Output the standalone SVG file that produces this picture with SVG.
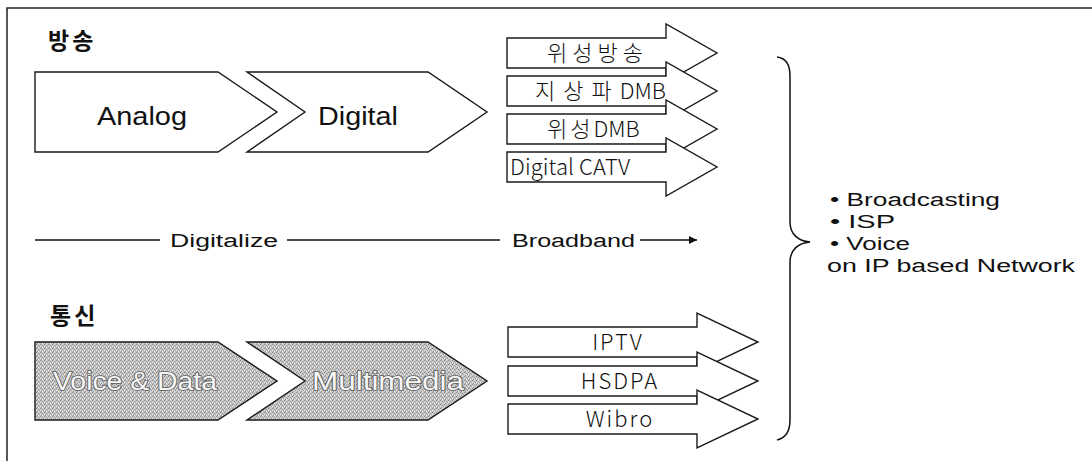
<svg xmlns="http://www.w3.org/2000/svg" width="1092" height="461" viewBox="0 0 1092 461">
  <style>
    .frame { stroke: #222; stroke-width: 1.5; fill: none; }
    .chev { fill: #ffffff; stroke: #1a1a1a; stroke-width: 1.4; stroke-linejoin: miter; }
    .chev-g { fill: url(#dither); stroke: #1a1a1a; stroke-width: 1.4; }
    .arr { fill: #ffffff; stroke: #1a1a1a; stroke-width: 1.4; stroke-linejoin: miter; }
    .head { font-family: "Noto Sans CJK KR", sans-serif; font-weight: 700; font-size: 23px; fill: #111; letter-spacing: 3px; }
    .big { font-family: "Liberation Sans", Arial, sans-serif; font-size: 25px; fill: #111; }
    .big-g { font-family: "Liberation Sans", Arial, sans-serif; font-size: 25px; fill: #f6f6f6; stroke: #5a5a5a; stroke-width: 1.6; paint-order: stroke; }
    .mid { font-family: "Liberation Sans", Arial, sans-serif; font-size: 18px; fill: #111; }
    .thin { font-family: "Noto Sans CJK KR", sans-serif; font-weight: 300; font-size: 22px; fill: #111; }
    .line { stroke: #111; stroke-width: 1.5; fill: none; }
  </style>
  <defs>
    <pattern id="dither" width="4" height="4" patternUnits="userSpaceOnUse">
      <rect width="4" height="4" fill="#c6c6c6"/>
      <rect x="0" y="0" width="1" height="1" fill="#8c8c8c"/>
      <rect x="2" y="1" width="1" height="1" fill="#999"/>
      <rect x="1" y="3" width="1" height="1" fill="#8c8c8c"/>
      <rect x="3" y="2" width="1" height="1" fill="#a0a0a0"/>
      <rect x="2" y="3" width="1" height="1" fill="#eeeeee"/>
      <rect x="0" y="2" width="1" height="1" fill="#e6e6e6"/>
    </pattern>
    <marker id="tip" viewBox="0 0 10 10" refX="10" refY="5" markerWidth="11" markerHeight="8" markerUnits="userSpaceOnUse" orient="auto">
      <path d="M0,0 L10,5 L0,10 Z" fill="#111"/>
    </marker>
  </defs>

  <rect width="1092" height="461" fill="#ffffff"/>
  <!-- outer frame: top and left edges -->
  <path class="frame" d="M7,461 V8 H1092"/>

  <!-- broadcasting section -->
  <text class="head" x="48" y="49">방송</text>

  <g id="analog">
    <path class="chev" d="M35,72 H218 L277,112 L218,152 H35 Z"/>
    <text class="big" x="97" y="125" textLength="90" lengthAdjust="spacingAndGlyphs">Analog</text>
  </g>
  <g id="digital">
    <path class="chev" d="M247,72 H428 L487,112 L428,152 H247 L305,112 Z"/>
    <text class="big" x="318" y="125" textLength="80" lengthAdjust="spacingAndGlyphs">Digital</text>
  </g>

  <g id="sat-broadcast">
    <path class="arr" d="M507,38 H666 V24 L717,53 L666,82 V68 H507 Z"/>
    <text class="thin" x="547" y="61" letter-spacing="5">위성방송</text>
  </g>
  <g id="terrestrial-dmb">
    <path class="arr" d="M507,76 H666 V62 L717,91 L666,120 V106 H507 Z"/>
    <text class="thin" x="535" y="99"><tspan letter-spacing="8">지상파</tspan>DMB</text>
  </g>
  <g id="sat-dmb">
    <path class="arr" d="M507,114 H666 V100 L717,129 L666,158 V144 H507 Z"/>
    <text class="thin" x="547" y="137"><tspan letter-spacing="3">위성</tspan>DMB</text>
  </g>
  <g id="digital-catv">
    <path class="arr" d="M507,152 H666 V138 L717,167 L666,196 V182 H507 Z"/>
    <text class="thin" x="510" y="175" textLength="120" lengthAdjust="spacing">Digital CATV</text>
  </g>

  <!-- timeline connector -->
  <g id="connectors">
    <path class="line" d="M35,240 H160"/>
    <path class="line" d="M287,240 H500"/>
    <path class="line" d="M640,240 H697" marker-end="url(#tip)"/>
  </g>
  <text class="mid" x="170" y="247" textLength="108" lengthAdjust="spacingAndGlyphs">Digitalize</text>
  <text class="mid" x="512" y="247" textLength="123" lengthAdjust="spacingAndGlyphs">Broadband</text>

  <!-- telecom section -->
  <text class="head" x="50" y="324">통신</text>

  <g id="voice-data">
    <path class="chev-g" d="M35,342 H218 L277,381 L218,420 H35 Z"/>
    <text class="big-g" x="53" y="390" textLength="164" lengthAdjust="spacingAndGlyphs">Voice &amp; Data</text>
  </g>
  <g id="multimedia">
    <path class="chev-g" d="M247,342 H428 L487,381 L428,420 H247 L305,381 Z"/>
    <text class="big-g" x="312" y="390" textLength="152" lengthAdjust="spacingAndGlyphs">Multimedia</text>
  </g>

  <g id="iptv">
    <path class="arr" d="M508,327 H697 V313 L758,342 L697,371 V357 H508 Z"/>
    <text class="thin" x="618" y="350" text-anchor="middle" letter-spacing="2">IPTV</text>
  </g>
  <g id="hsdpa">
    <path class="arr" d="M508,366 H697 V352 L758,381 L697,410 V396 H508 Z"/>
    <text class="thin" x="620" y="389" text-anchor="middle" letter-spacing="2">HSDPA</text>
  </g>
  <g id="wibro">
    <path class="arr" d="M508,404 H697 V390 L758,419 L697,448 V434 H508 Z"/>
    <text class="thin" x="620" y="427" text-anchor="middle" letter-spacing="2">Wibro</text>
  </g>

  <!-- brace grouping both sections -->
  <g id="brace">
    <path class="line" stroke-width="1.3" d="M777,57 C786,58 790,64 790,76 V222 C790,234 798,241 810,242 C798,243 790,250 790,262 V420 C790,432 786,438 777,440"/>
  </g>

  <g id="result">
    <text class="mid" x="830" y="206" textLength="170" lengthAdjust="spacingAndGlyphs">• Broadcasting</text>
    <text class="mid" x="830" y="228" textLength="65" lengthAdjust="spacingAndGlyphs">• ISP</text>
    <text class="mid" x="830" y="250" textLength="80" lengthAdjust="spacingAndGlyphs">• Voice</text>
    <text class="mid" x="827" y="272" textLength="248" lengthAdjust="spacingAndGlyphs">on IP based Network</text>
  </g>
</svg>
